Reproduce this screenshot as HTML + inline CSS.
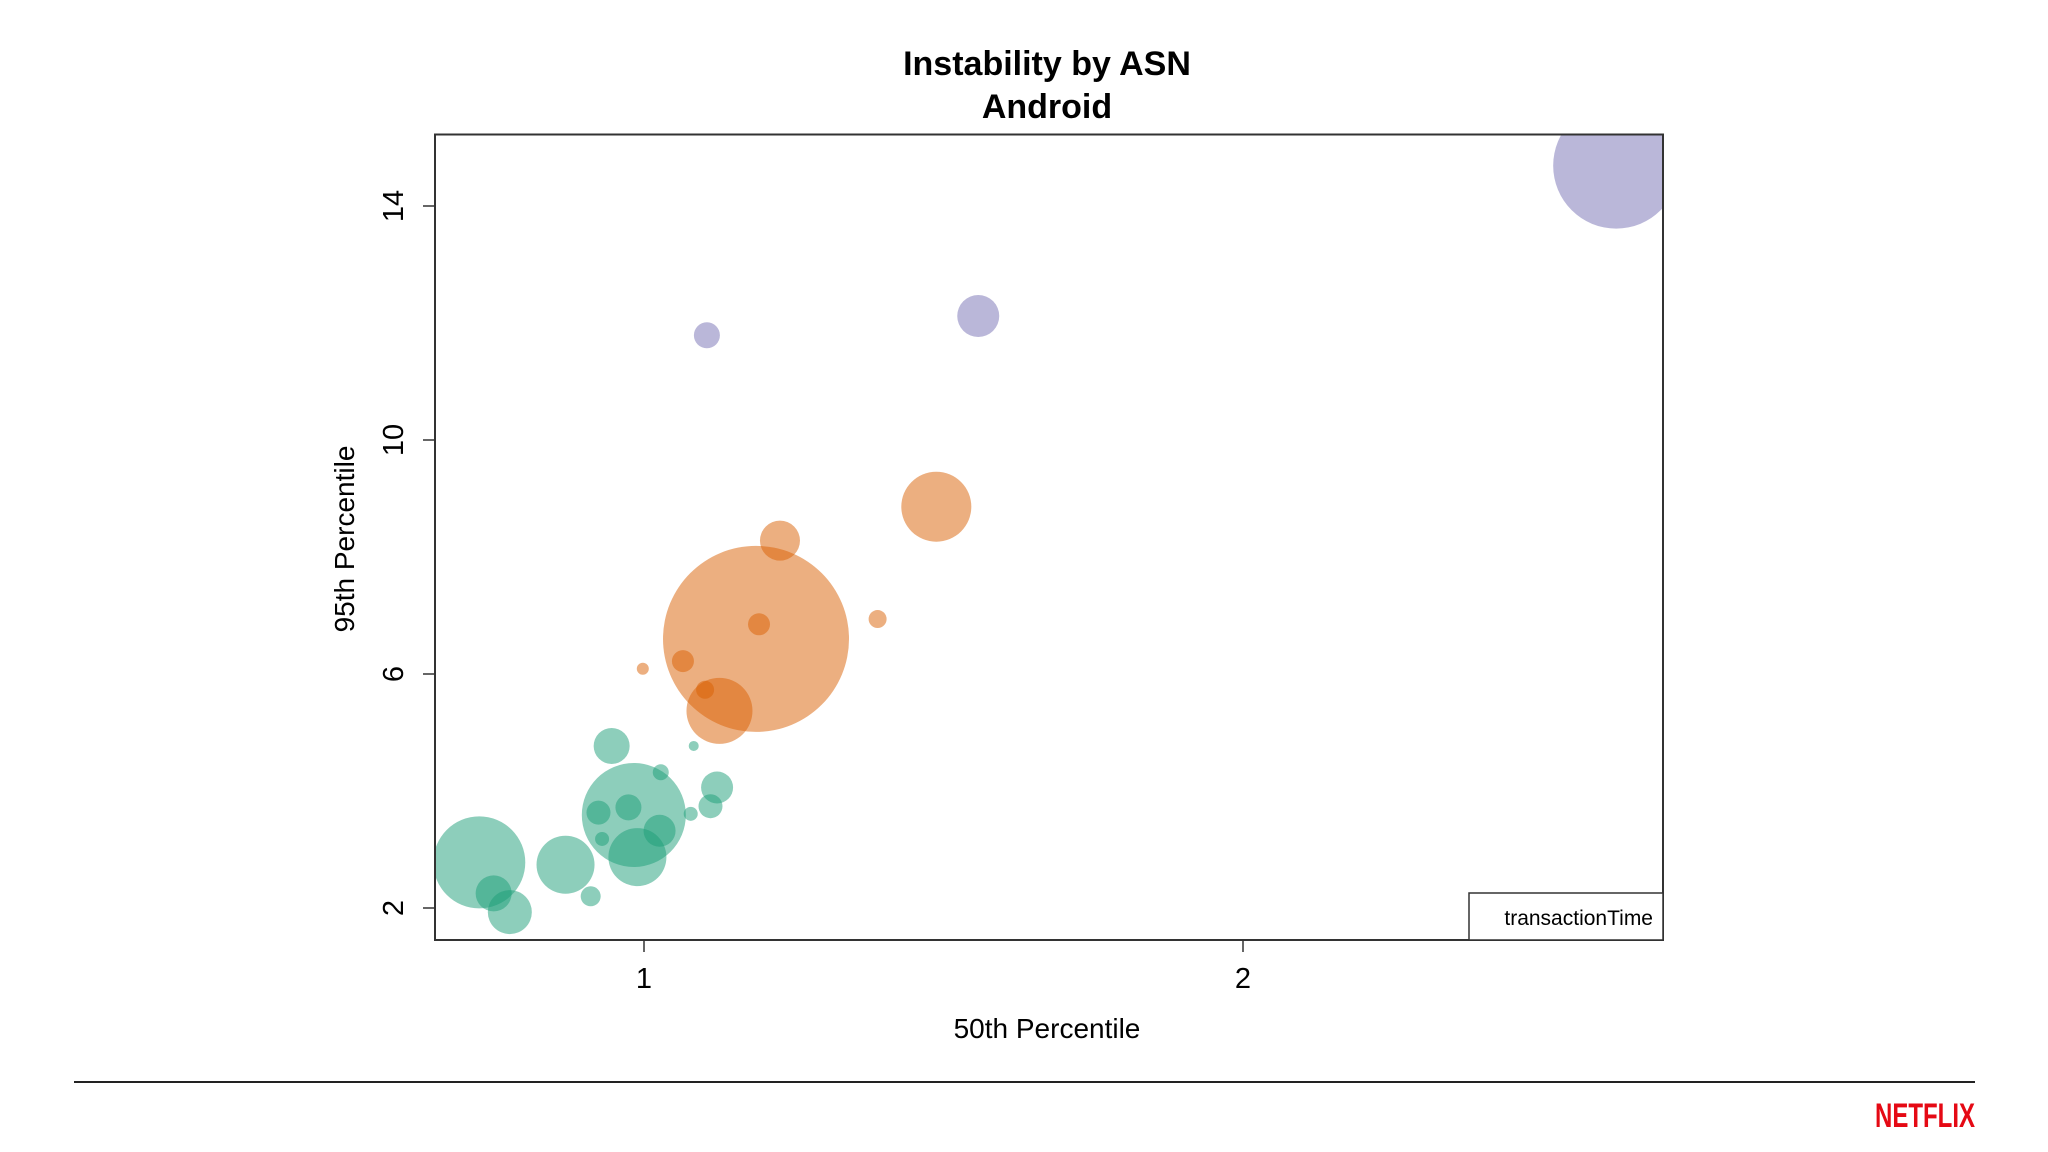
<!DOCTYPE html>
<html><head><meta charset="utf-8"><style>
html,body{margin:0;padding:0;background:#fff;width:2048px;height:1152px;overflow:hidden}
svg{display:block}
text{font-family:"Liberation Sans",Arial,sans-serif}
</style></head><body>
<svg id="chart" width="2048" height="1152">
<text x="1047" y="75" text-anchor="middle" font-size="34" font-weight="bold">Instability by ASN</text>
<text x="1047" y="118" text-anchor="middle" font-size="34" font-weight="bold">Android</text>
<g id="bubbles"></g>
<rect x="435" y="134.5" width="1228" height="805.5" fill="none" stroke="#333" stroke-width="2"/>
<g id="axes"></g>
<text x="1047" y="1038" text-anchor="middle" font-size="28">50th Percentile</text>
<text transform="translate(354,539) rotate(-90)" text-anchor="middle" font-size="28">95th Percentile</text>
<g>
<rect x="1469" y="893" width="194" height="47" fill="#fff" stroke="#333" stroke-width="1.5"/>
<text x="1653" y="925" text-anchor="end" font-size="21">transactionTime</text>
</g>
<line x1="74" y1="1082" x2="1975" y2="1082" stroke="#222" stroke-width="2"/>
<text x="1925" y="1127" text-anchor="middle" font-size="34" font-weight="bold" fill="#e50914" textLength="100" lengthAdjust="spacingAndGlyphs">NETFLIX</text>
</svg>
<script>
const purpleX=[2.623,1.558,1.105];
const purpleY=[14.69,12.12,11.79];
const purpleR=[63,21,13];
const orangeX=[1.187,1.488,1.227,1.126,1.192,1.390,1.065,1.102,0.998];
const orangeY=[6.60,8.86,8.28,5.37,6.85,6.94,6.22,5.73,6.09];
const orangeR=[93,35,20,33,11,9,11,9,6];
const greenX=[0.725,0.983,0.989,0.869,0.946,1.122,1.111,0.776,0.749,0.911,1.026,0.974,0.924,1.028,0.930,1.078,1.083];
const greenY=[2.78,3.59,2.87,2.74,4.77,4.06,3.74,1.93,2.25,2.20,3.32,3.72,3.63,4.32,3.18,3.61,4.77];
const greenR=[46,52,29,29,18,16,12,22,18,10,16,13,12,8,7,7,5];
const xTicks=[1,2];
const yTicks=[2,6,10,14];
const NS="http://www.w3.org/2000/svg";
const L=435,R=1663,T=134.5,B=940;
function sx(v){return 644+(v-1)*599;}
function sy(v){return 908-(v-2)*58.5;}
const g=document.getElementById('bubbles');
const clip=document.createElementNS(NS,'clipPath');clip.setAttribute('id','pc');
const cr=document.createElementNS(NS,'rect');cr.setAttribute('x',L);cr.setAttribute('y',T);cr.setAttribute('width',R-L);cr.setAttribute('height',B-T);
clip.appendChild(cr);document.getElementById('chart').appendChild(clip);
g.setAttribute('clip-path','url(#pc)');
function series(xs,ys,rs,color,name){
  for(let i=0;i<xs.length;i++){
    const c=document.createElementNS(NS,'circle');
    c.setAttribute('cx',sx(xs[i]));c.setAttribute('cy',sy(ys[i]));c.setAttribute('r',rs[i]);
    c.setAttribute('fill',color);c.setAttribute('fill-opacity','0.5');
    
    
    g.appendChild(c);
  }
}
series(greenX,greenY,greenR,'#1B9E77','green');
series(orangeX,orangeY,orangeR,'#D95F02','orange');
series(purpleX,purpleY,purpleR,'#7570B3','purple');
const ax=document.getElementById('axes');
xTicks.forEach(t=>{
  const l=document.createElementNS(NS,'line');
  l.setAttribute('x1',sx(t));l.setAttribute('x2',sx(t));l.setAttribute('y1',B);l.setAttribute('y2',B+12);
  l.setAttribute('stroke','#333');l.setAttribute('stroke-width','1.5');
  
  
  ax.appendChild(l);
  const tx=document.createElementNS(NS,'text');
  tx.setAttribute('x',sx(t));tx.setAttribute('y',988);tx.setAttribute('text-anchor','middle');tx.setAttribute('font-size','29');
  tx.textContent=t;
  
  
  ax.appendChild(tx);
});
yTicks.forEach(t=>{
  const l=document.createElementNS(NS,'line');
  l.setAttribute('x1',L-12);l.setAttribute('x2',L);l.setAttribute('y1',sy(t));l.setAttribute('y2',sy(t));
  l.setAttribute('stroke','#333');l.setAttribute('stroke-width','1.5');
  
  
  ax.appendChild(l);
  const tx=document.createElementNS(NS,'text');
  tx.setAttribute('transform','translate(403,'+sy(t)+') rotate(-90)');
  tx.setAttribute('text-anchor','middle');tx.setAttribute('font-size','29');
  tx.textContent=t;
  
  
  ax.appendChild(tx);
});
</script>
</body></html>
